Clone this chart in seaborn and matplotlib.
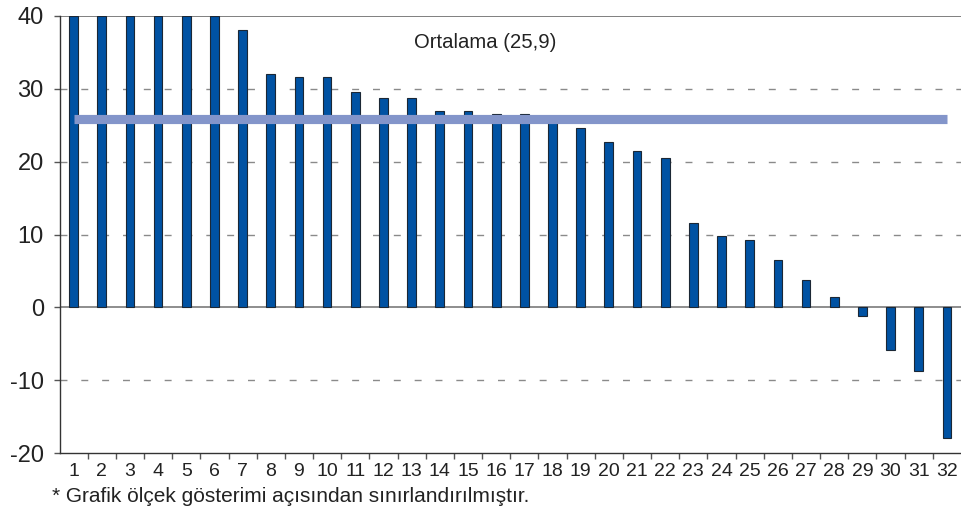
import numpy as np
import pandas as pd
import matplotlib
matplotlib.use("Agg")
import matplotlib.pyplot as plt
import seaborn as sns
from matplotlib.ticker import MultipleLocator, FixedLocator

# Veriler (1-6 grafikte 40 ile sınırlandırılmış)
categories = [str(i) for i in range(1, 33)]
values = [40, 40, 40, 40, 40, 40, 38.1, 32.0, 31.6, 31.6, 29.6, 28.7, 28.7,
          27.0, 27.0, 26.5, 26.5, 25.6, 24.6, 22.7, 21.4, 20.5, 11.6, 9.8,
          9.3, 6.5, 3.7, 1.4, -1.2, -5.9, -8.7, -18.0]
mean_value = 25.9
mean_label = "Ortalama (25,9)"
footnote = "* Grafik ölçek gösterimi açısından sınırlandırılmıştır."

sns.set_style("white")
plt.rcParams['font.family'] = ['Liberation Sans', 'DejaVu Sans']
plt.rcParams['axes.unicode_minus'] = False

df = pd.DataFrame({'Kategori': categories, 'Deger': values})

fig = plt.figure(figsize=(9.61, 5.16), dpi=100)
ax = fig.add_axes([59.5 / 961, 1 - 453 / 516, (961 - 59.5) / 961, (453 - 16) / 516])

sns.barplot(data=df, x='Kategori', y='Deger', color='#0052A3', saturation=1,
            width=0.31, edgecolor='#1b2735', linewidth=0.8, ax=ax, zorder=3)

# Yatay çizgiler
for y in [-10, 10, 20, 30]:
    ax.axhline(y, color='#8a8a8a', lw=1.0, ls=(0, (5, 10)), zorder=1)
ax.axhline(0, color='#7a7a7a', lw=1.2, zorder=2)
ax.axhline(40, color='#6a6a6a', lw=1.2, zorder=2)

# Ortalama çizgisi
ax.hlines(mean_value, 0, len(categories) - 1, color='#8395CA', lw=6.6,
          capstyle='butt', zorder=4)
ax.text(14.6, 36.4, mean_label, ha='center', va='center', fontsize=14.6,
        color='#222222')

ax.set_xlim(-0.5, len(categories) - 0.5)
ax.set_ylim(-20, 40)
ax.yaxis.set_major_locator(MultipleLocator(10))
ax.set_xlabel('')
ax.set_ylabel('')

for side in ['top', 'right']:
    ax.spines[side].set_visible(False)
ax.spines['left'].set_color('#333333')
ax.spines['bottom'].set_color('#333333')
ax.spines['left'].set_linewidth(1.0)
ax.spines['bottom'].set_linewidth(1.0)

ax.tick_params(axis='y', which='major', left=True, length=4.3, width=1.0,
               color='#555555', pad=7, labelsize=17, labelcolor='#222222')
ax.tick_params(axis='x', which='major', bottom=True, length=0, pad=7,
               labelsize=14, labelcolor='#222222')
ax.xaxis.set_minor_locator(FixedLocator(np.arange(0.5, len(categories) - 1, 1.0)))
ax.tick_params(axis='x', which='minor', bottom=True, length=4.3, width=1.0,
               color='#555555')

fig.text(52 / 961, 1 - 497 / 516, footnote, ha='left', va='center',
         fontsize=15, color='#222222')

fig.savefig('out.png', dpi=100)
plt.close(fig)
